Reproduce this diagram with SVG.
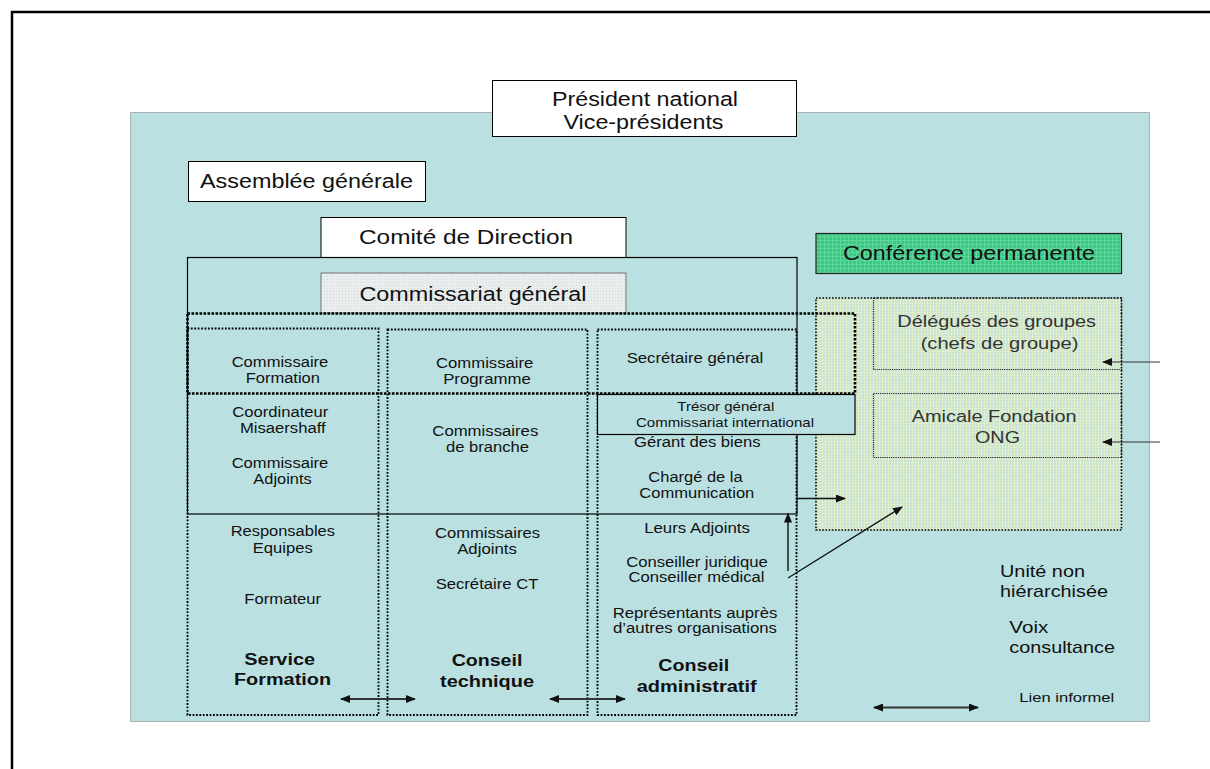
<svg xmlns="http://www.w3.org/2000/svg" width="1210" height="769" viewBox="0 0 1210 769">
  <style>
    text { font-family: "Liberation Sans", Arial, sans-serif; fill: #111; }
    .t20 { font-size: 20px; text-anchor: middle; }
    .t14 { font-size: 14px; text-anchor: middle; }
    .t13 { font-size: 13px; text-anchor: middle; }
    .b16 { font-size: 16px; font-weight: bold; text-anchor: middle; }
    .g16 { font-size: 16px; text-anchor: middle; fill: #333; }
    .leg { font-size: 17px; }
    .box { fill: #fff; stroke: #000; stroke-width: 1; }
    .col { fill: none; stroke: #000; stroke-width: 1.8; stroke-dasharray: 1.8 1.6; }
    .thick { fill: none; stroke: #000; stroke-width: 2.6; stroke-dasharray: 2.6 1.4; }
    .fine { stroke: #222; stroke-width: 1.2; stroke-dasharray: 1.2 1; }
    .arr2 { stroke: #333; stroke-width: 2; fill: none; marker-start: url(#head); marker-end: url(#head); }
    .arr { stroke: #111; stroke-width: 1.4; fill: none; marker-end: url(#head); }
    .arrThin { stroke: #333; stroke-width: 1; fill: none; marker-end: url(#head); }
  </style>
  <defs>
    <marker id="head" markerUnits="userSpaceOnUse" markerWidth="10" markerHeight="8" refX="9" refY="4" orient="auto-start-reverse">
      <path d="M0,0 L10,4 L0,8 z" fill="#111"/>
    </marker>
    <pattern id="grey" width="3" height="3" patternUnits="userSpaceOnUse">
      <rect width="3" height="3" fill="#e9eded"/>
      <rect width="1" height="1" fill="#d3dada"/>
    </pattern>
    <pattern id="green" width="4" height="4" patternUnits="userSpaceOnUse">
      <rect width="4" height="4" fill="#38c982"/>
      <rect width="4" height="1" fill="#5fd79c"/>
      <rect width="1" height="4" fill="#5fd79c"/>
    </pattern>
    <pattern id="yellow" width="3" height="3" patternUnits="userSpaceOnUse">
      <rect width="3" height="3" fill="#c4e1da"/>
      <rect width="3" height="1" fill="#dcebcc"/>
      <rect width="1" height="3" fill="#e6efc2"/>
    </pattern>
  </defs>

  <!-- page frame -->
  <rect x="12" y="12" width="1220" height="800" fill="#fff" stroke="#000" stroke-width="2.5"/>

  <!-- association area -->
  <rect x="130.5" y="112.5" width="1019" height="609" fill="#bae0e2" stroke="#777" stroke-width="1" stroke-dasharray="1 1"/>

  <g id="president">
    <rect class="box" x="492.5" y="80.5" width="304" height="56"/>
    <text class="t20" x="645" y="106" textLength="186" lengthAdjust="spacingAndGlyphs">Président national</text>
    <text class="t20" x="643.5" y="128.5" textLength="160" lengthAdjust="spacingAndGlyphs">Vice-présidents</text>
  </g>

  <g id="assemblee">
    <rect class="box" x="188.5" y="161.5" width="237" height="40"/>
    <text class="t20" x="306.5" y="188" textLength="213" lengthAdjust="spacingAndGlyphs">Assemblée générale</text>
  </g>

  <g id="comite">
    <rect class="box" x="321" y="217.5" width="305" height="40"/>
    <text class="t20" x="466" y="243.5" textLength="214" lengthAdjust="spacingAndGlyphs">Comité de Direction</text>
    <rect x="187.5" y="257.5" width="609.5" height="256.5" fill="none" stroke="#000" stroke-width="1.2"/>
  </g>

  <g id="commissariat">
    <rect x="321" y="273" width="305" height="40" fill="url(#grey)" stroke="#777" stroke-width="1"/>
    <text class="t20" x="473" y="300.5" textLength="227" lengthAdjust="spacingAndGlyphs">Commissariat général</text>
  </g>

  <g id="conference">
    <rect x="816" y="233.5" width="305.5" height="40" fill="url(#green)" stroke="#222" stroke-width="1.2"/>
    <text x="969" y="260" style="font-size:21px;text-anchor:middle" textLength="252" lengthAdjust="spacingAndGlyphs">Conférence permanente</text>
  </g>

  <g id="unite-non-hierarchisee">
    <rect x="816" y="298" width="305.5" height="232" fill="url(#yellow)" stroke="#000" stroke-width="1.6" stroke-dasharray="1.6 1.6"/>
  </g>

  <g id="delegues">
    <rect class="fine" x="873.5" y="298" width="248" height="71.5" fill="none"/>
    <text class="g16" x="996.7" y="327.3" textLength="198.7" lengthAdjust="spacingAndGlyphs">Délégués des groupes</text>
    <text class="g16" x="999.5" y="349" textLength="157.7" lengthAdjust="spacingAndGlyphs">(chefs de groupe)</text>
  </g>

  <g id="amicale">
    <rect class="fine" x="873.5" y="393.5" width="248" height="64" fill="none"/>
    <text class="g16" x="994.2" y="422.3" textLength="165" lengthAdjust="spacingAndGlyphs">Amicale Fondation</text>
    <text class="g16" x="997.5" y="442.7" textLength="45" lengthAdjust="spacingAndGlyphs">ONG</text>
  </g>

  <g id="service-formation">
    <rect class="col" x="187.5" y="328.5" width="191" height="386.5"/>
    <text class="t14" x="280" y="366.7" textLength="96.7" lengthAdjust="spacingAndGlyphs">Commissaire</text>
    <text class="t14" x="282.8" y="382.7" textLength="74.3" lengthAdjust="spacingAndGlyphs">Formation</text>
    <text class="t14" x="280.3" y="417.3" textLength="96" lengthAdjust="spacingAndGlyphs">Coordinateur</text>
    <text class="t14" x="282.8" y="433.3" textLength="85.7" lengthAdjust="spacingAndGlyphs">Misaershaff</text>
    <text class="t14" x="280" y="468.3" textLength="96.7" lengthAdjust="spacingAndGlyphs">Commissaire</text>
    <text class="t14" x="282.5" y="484.3" textLength="58.3" lengthAdjust="spacingAndGlyphs">Adjoints</text>
    <text class="t14" x="282.8" y="536" textLength="104.3" lengthAdjust="spacingAndGlyphs">Responsables</text>
    <text class="t14" x="282.7" y="552.7" textLength="60" lengthAdjust="spacingAndGlyphs">Equipes</text>
    <text class="t14" x="282.7" y="604" textLength="76.7" lengthAdjust="spacingAndGlyphs">Formateur</text>
    <text class="b16" x="279.7" y="665" textLength="70.7" lengthAdjust="spacingAndGlyphs">Service</text>
    <text class="b16" x="282.5" y="685" textLength="97" lengthAdjust="spacingAndGlyphs">Formation</text>
  </g>

  <g id="conseil-technique">
    <rect class="col" x="387.5" y="329.5" width="200" height="385.5"/>
    <text class="t14" x="484.7" y="368.3" textLength="97.3" lengthAdjust="spacingAndGlyphs">Commissaire</text>
    <text class="t14" x="487" y="384" textLength="87.7" lengthAdjust="spacingAndGlyphs">Programme</text>
    <text class="t14" x="485.3" y="436" textLength="106" lengthAdjust="spacingAndGlyphs">Commissaires</text>
    <text class="t14" x="487.5" y="451.7" textLength="83" lengthAdjust="spacingAndGlyphs">de branche</text>
    <text class="t14" x="487.5" y="537.7" textLength="105" lengthAdjust="spacingAndGlyphs">Commissaires</text>
    <text class="t14" x="487" y="554" textLength="59.7" lengthAdjust="spacingAndGlyphs">Adjoints</text>
    <text class="t14" x="487" y="589" textLength="102.7" lengthAdjust="spacingAndGlyphs">Secrétaire CT</text>
    <text class="b16" x="487" y="666" textLength="70.7" lengthAdjust="spacingAndGlyphs">Conseil</text>
    <text class="b16" x="487" y="686.7" textLength="94" lengthAdjust="spacingAndGlyphs">technique</text>
  </g>

  <g id="conseil-administratif">
    <rect class="col" x="597.5" y="329.5" width="199" height="385.5"/>
    <text class="t14" x="695" y="363.3" textLength="136.7" lengthAdjust="spacingAndGlyphs">Secrétaire général</text>
    <text class="t14" x="697.3" y="447.3" textLength="126.7" lengthAdjust="spacingAndGlyphs">Gérant des biens</text>
    <text class="t14" x="695.5" y="481.7" textLength="94.3" lengthAdjust="spacingAndGlyphs">Chargé de la</text>
    <text class="t14" x="696.8" y="498.3" textLength="115" lengthAdjust="spacingAndGlyphs">Communication</text>
    <text class="t14" x="697" y="533.3" textLength="105.7" lengthAdjust="spacingAndGlyphs">Leurs Adjoints</text>
    <text class="t14" x="697" y="566.7" textLength="141.7" lengthAdjust="spacingAndGlyphs">Conseiller juridique</text>
    <text class="t14" x="696.5" y="582.3" textLength="136" lengthAdjust="spacingAndGlyphs">Conseiller médical</text>
    <text class="t14" x="695" y="617.7" textLength="164.7" lengthAdjust="spacingAndGlyphs">Représentants auprès</text>
    <text class="t14" x="695" y="633.3" textLength="164" lengthAdjust="spacingAndGlyphs">d’autres organisations</text>
    <text class="b16" x="693.8" y="670.7" textLength="71" lengthAdjust="spacingAndGlyphs">Conseil</text>
    <text class="b16" x="696.7" y="691.7" textLength="120" lengthAdjust="spacingAndGlyphs">administratif</text>
  </g>

  <!-- heads of the three councils -->
  <g id="commissaires">
    <rect class="thick" x="187.5" y="313.5" width="667.5" height="80"/>
  </g>

  <g id="tresor">
    <rect x="597.5" y="394.5" width="257.5" height="40" fill="#bae0e2" stroke="#000" stroke-width="1.2"/>
    <text class="t13" x="725.8" y="411" textLength="97" lengthAdjust="spacingAndGlyphs">Trésor général</text>
    <text class="t13" x="725" y="426.7" textLength="178" lengthAdjust="spacingAndGlyphs">Commissariat international</text>
  </g>

  <g id="legende">
    <text class="leg" x="1000" y="576.7" textLength="85" lengthAdjust="spacingAndGlyphs">Unité non</text>
    <text class="leg" x="1000" y="596.7" textLength="108" lengthAdjust="spacingAndGlyphs">hiérarchisée</text>
    <text class="leg" x="1009.3" y="633.3" textLength="39" lengthAdjust="spacingAndGlyphs">Voix</text>
    <text class="leg" x="1009.3" y="653.3" textLength="105.7" lengthAdjust="spacingAndGlyphs">consultance</text>
    <text x="1019.3" y="701.7" style="font-size:13px" textLength="95" lengthAdjust="spacingAndGlyphs">Lien informel</text>
  </g>

  <g id="connectors">
    <line class="arr2" x1="341" y1="699" x2="415" y2="699"/>
    <line class="arr2" x1="550" y1="699" x2="625" y2="699"/>
    <line class="arr2" x1="874" y1="707.5" x2="978" y2="707.5"/>
    <line class="arr" x1="797" y1="498.5" x2="845" y2="498.5"/>
    <line class="arr" x1="788" y1="571" x2="788" y2="513.5"/>
    <line class="arr" x1="788" y1="578" x2="902" y2="507"/>
    <line class="arrThin" x1="1160" y1="362" x2="1103" y2="362"/>
    <line class="arrThin" x1="1160" y1="442" x2="1103" y2="442"/>
  </g>
</svg>
